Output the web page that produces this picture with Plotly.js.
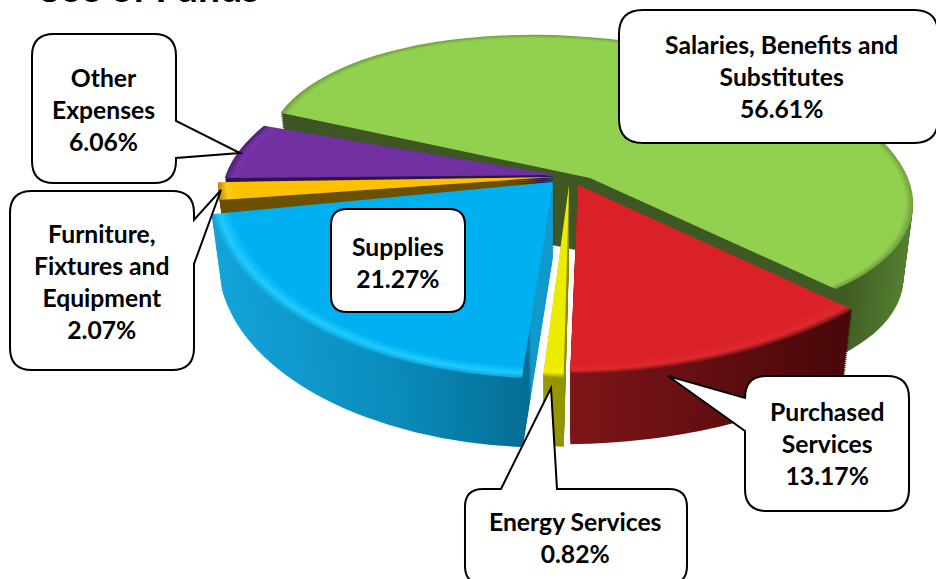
<!DOCTYPE html>
<html><head><meta charset="utf-8">
<script src="https://cdn.plot.ly/plotly-3.0.1.min.js"></script>
<style>html,body{margin:0;padding:0;background:#fff;overflow:hidden}#chart{width:936px;height:579px}</style>
</head><body><div id="chart"></div>
<script>
// ---- data ----
const categories = ["Salaries, Benefits and Substitutes","Purchased Services","Energy Services","Supplies","Furniture, Fixtures and Equipment","Other Expenses"];
const shares = [56.61,13.17,0.82,21.27,2.07,6.06];
const labelLines = ["Salaries, Benefits and<br>Substitutes","Purchased<br>Services","Energy Services","Supplies","Furniture,<br>Fixtures and<br>Equipment","Other<br>Expenses"];
const chartTitle = "Use of Funds";

// ---- styles ----
const topColors  = ["#92d050","#da2128","#ecec00","#00b0f0","#ffc000","#7030a0"];
const lightRim   = ["#92d050","#e0292e","#f2f200","#1fcbff","#ffc81a","#7832aa"];
const edgeColors = ["#6f9c3d","#6e1214","#a0a000","#0ea0d6","#b38600","#4a2070"];
const wallStops  = [
  [[0,"#3d5522"],[0.9,"#3f5a24"],[1,"#547f30"]],
  [[0,"#7e1518"],[1,"#480709"]],
  [[0,"#9a9a00"],[1,"#8a8a00"]],
  [[0,"#14a3d8"],[0.5,"#0a8cbc"],[0.9,"#056d94"],[0.91,"#0f9acb"],[1,"#0f9acb"]],
  [[0,"#6b5000"],[1,"#6b5000"]],
  [[0,"#2c1450"],[1,"#2c1450"]]
];
// where each wedge sits on the tilted plate: apex, and the images of the pie's right/up axes
const frames = [
  {c:[590,178],u:[323,30], v:[10,-140], rot:285},
  {c:[578,185],u:[380,-19],v:[-20,-189],rot:293},
  {c:[569,185],u:[400,0],  v:[-24,-193],rot:293},
  {c:[553,182],u:[345,-11],v:[-12,-196],rot:293},
  {c:[553,177],u:[335,-8], v:[0,-138],  rot:293},
  {c:[555,175],u:[331,-6], v:[35,-140], rot:293}
];
const drawOrder = [0,5,4,3,2,1];
const depth = 75, steps = 36, shrink = 0.03;

const W = 936, H = 579;
const fontFam = "Lato, 'Open Sans', sans-serif";

const callouts = [
  {box:[619,10,938,143], r:24, text:[781,77]},
  {box:[745,376,909,511], r:22, tip:[668,376], base:[398,431], text:[827,444]},
  {box:[465,489,687,584], r:18, tip:[551,388], baseX:[501,557], text:[575,537]},
  {box:[331,209,465,312], r:16, text:[398,262]},
  {box:[10,191,194,370], r:22, tip:[221,190], base:[220,264], text:[102,281]},
  {box:[32,34,176,183], r:22, tip:[240,153], base:[121,158], text:[103,110]}
];

const px = x => (x/W).toFixed(5), py = y => (1-y/H).toFixed(5);
function pathFrom(pts){
  return pts.map(p=>{
    if(p[0]==="Q") return `Q${px(p[1])},${py(p[2])} ${px(p[3])},${py(p[4])}`;
    return `${p[0]}${px(p[1])},${py(p[2])}`;
  }).join(" ")+" Z";
}
function calloutPath(c){
  const [x0,y0,x1,y1]=c.box, r=c.r, p=[];
  p.push(["M",x0+r,y0]);
  if(c.baseX){ p.push(["L",c.baseX[0],y0]); p.push(["L",c.tip[0],c.tip[1]]); p.push(["L",c.baseX[1],y0]); }
  p.push(["L",x1-r,y0]); p.push(["Q",x1,y0,x1,y0+r]);
  if(c.base){ if(c.tip[0]>x1){p.push(["L",x1,c.base[0]]); p.push(["L",c.tip[0],c.tip[1]]); p.push(["L",x1,c.base[1]]);} }
  p.push(["L",x1,y1-r]); p.push(["Q",x1,y1,x1-r,y1]);
  p.push(["L",x0+r,y1]); p.push(["Q",x0,y1,x0,y1-r]);
  if(c.base && c.tip[0]<x0){ p.push(["L",x0,c.base[1]]); p.push(["L",c.tip[0],c.tip[1]]); p.push(["L",x0,c.base[0]]); }
  p.push(["L",x0,y0+r]); p.push(["Q",x0,y0,x0+r,y0]);
  return pathFrom(p);
}

const data = [], placed = [];
drawOrder.forEach(i=>{
  for(let k=steps;k>=0;k--){
    data.push({
      type:"pie", values:shares, labels:categories, sort:false, direction:"clockwise",
      rotation:frames[i].rot, textinfo:"none", hoverinfo:"skip", showlegend:false,
      domain:{x:[0,1],y:[0,1]},
      marker:{colors:categories.map((_,j)=>j===i?topColors[i]:"rgba(0,0,0,0)"),line:{width:0}}
    });
    placed.push({i,k});
  }
});

const layout = {
  width:W,height:H,margin:{l:0,r:0,t:0,b:0},paper_bgcolor:"#fff",showlegend:false,
  title:{text:chartTitle,x:35/W,xanchor:"left",xref:"container",y:1-2/H,yanchor:"bottom",yref:"container",
         font:{family:fontFam,size:39,color:"#000",weight:700}},
  shapes:callouts.map(c=>({type:"path",xref:"paper",yref:"paper",path:calloutPath(c),
         fillcolor:"#fff",line:{color:"#000",width:2},layer:"above"})),
  annotations:callouts.map((c,i)=>({xref:"paper",yref:"paper",x:c.text[0]/W,y:1-c.text[1]/H,
         xanchor:"center",yanchor:"middle",showarrow:false,align:"center",
         text:`<b>${labelLines[i]}<br>${shares[i].toFixed(2)}%</b>`,
         font:{family:fontFam,size:24.7,color:"#000"}}))
};

const gd = document.getElementById("chart");
Plotly.newPlot(gd,data,layout,{displayModeBar:false,staticPlot:true}).then(()=>{
  const svg = gd.querySelector(".main-svg");
  const NS = "http://www.w3.org/2000/svg";
  const defs = document.createElementNS(NS,"defs");
  svg.insertBefore(defs,svg.firstChild);
  const cd0 = gd.calcdata[0][0], R = cd0.r, cx0 = cd0.cx, cy0 = cd0.cy;
  const stop = (g,o,col)=>{const s=document.createElementNS(NS,"stop");s.setAttribute("offset",o);s.setAttribute("stop-color",col);g.appendChild(s);};
  categories.forEach((_,i)=>{
    const rg = document.createElementNS(NS,"radialGradient");
    rg.id="top"+i; rg.setAttribute("gradientUnits","userSpaceOnUse");
    rg.setAttribute("cx",cx0);rg.setAttribute("cy",cy0);rg.setAttribute("r",R);
    stop(rg,0,topColors[i]);stop(rg,0.94,topColors[i]);stop(rg,0.975,lightRim[i]);stop(rg,1,edgeColors[i]);
    defs.appendChild(rg);
    const lg = document.createElementNS(NS,"linearGradient");
    lg.id="wall"+i; wallStops[i].forEach(s=>stop(lg,s[0],s[1]));
    defs.appendChild(lg);
  });
  gd.querySelectorAll(".pielayer .trace").forEach((tr,n)=>{
    const {i,k}=placed[n], f=frames[i], t=1-shrink*k/steps, dy=depth*k/steps;
    const a=t*f.u[0]/R, c=-t*f.v[0]/R, b=t*f.u[1]/R, d=-t*f.v[1]/R;
    const e=f.c[0]-a*cx0-c*cy0, g=f.c[1]+dy-b*cx0-d*cy0;
    tr.setAttribute("transform",`matrix(${a},${b},${c},${d},${e},${g})`);
    const path = tr.querySelectorAll(".slice")[i].querySelector("path");
    path.style.fill = k===0?`url(#top${i})`:`url(#wall${i})`;
  });
});
</script></body></html>
